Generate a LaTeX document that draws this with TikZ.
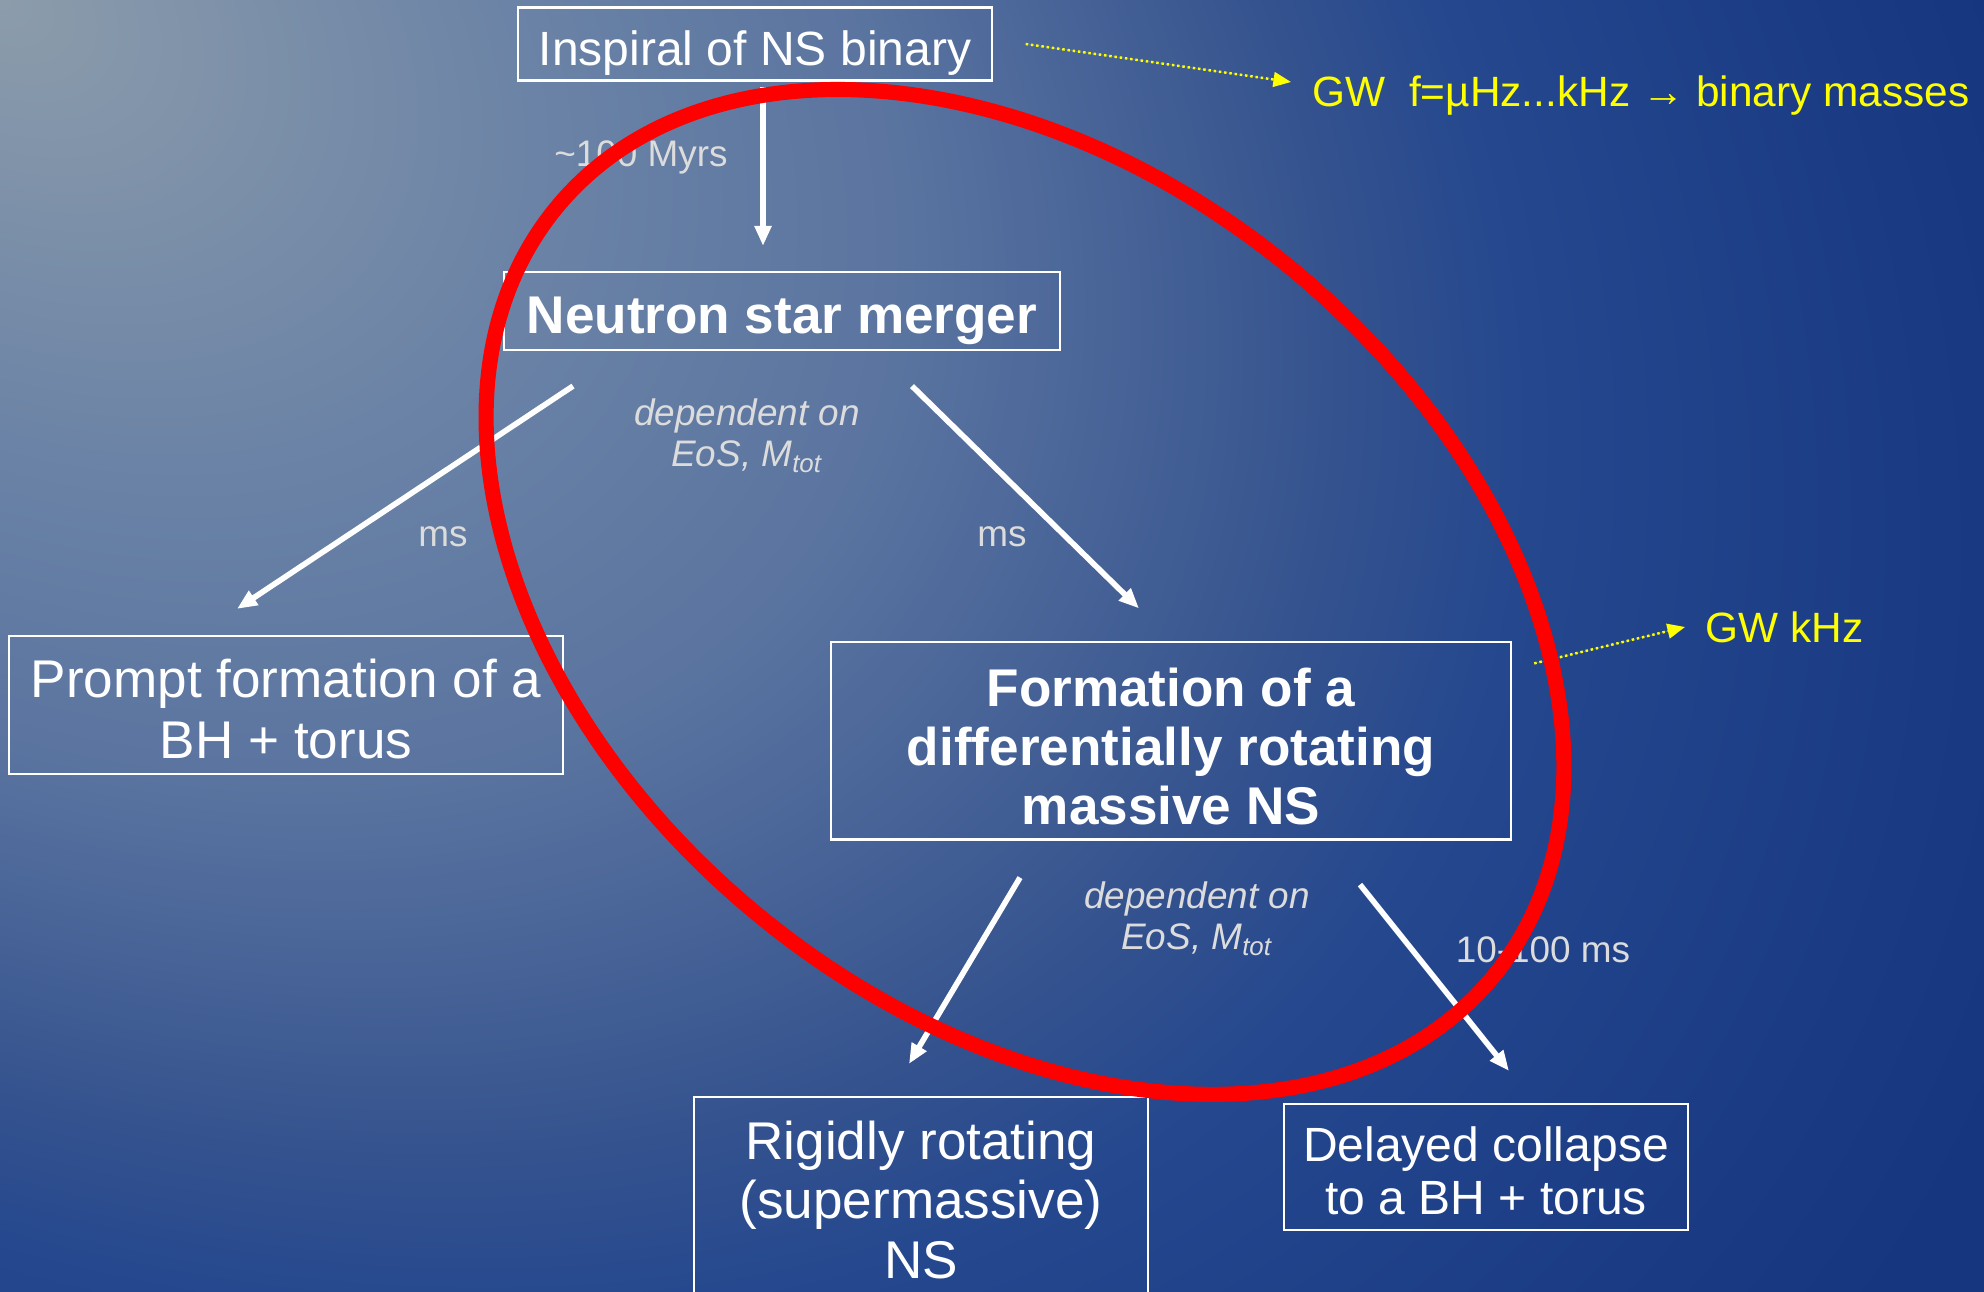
\documentclass[tikz,border=0pt]{standalone}
\usepackage{fontspec}
\setmainfont{Liberation Sans}
\usepackage{xcolor}
\usetikzlibrary{arrows.meta,calc}

\definecolor{bgA}{HTML}{8C9CAB}
\definecolor{bgB}{HTML}{6B83A6}
\definecolor{bgC}{HTML}{5A74A0}
\definecolor{bgD}{HTML}{34528E}
\definecolor{bgE}{HTML}{24478E}
\definecolor{bgF}{HTML}{16367F}
\definecolor{lblgray}{HTML}{DCDCDC}
\definecolor{gwyellow}{HTML}{FFFF00}
\pgfdeclareradialshading{bgglow}{\pgfpoint{0bp}{0bp}}{color(0bp)=(bgA); color(5.6bp)=(bgB); color(9.5bp)=(bgC); color(14bp)=(bgD); color(16bp)=(bgE); color(22bp)=(bgF); color(50bp)=(bgF)}

\begin{document}
\begin{tikzpicture}[
  x=0.01cm, y=-0.01cm,
  box/.style={rectangle, draw=white, line width=0.6pt, text=white, align=center,
              inner sep=0pt, font=\fontsize{15.1pt}{16.8pt}\selectfont},
  boldbox/.style={box, font=\fontsize{15.1pt}{16.8pt}\selectfont\bfseries},
  lbl/.style={text=lblgray, inner sep=0pt, align=center, font=\fontsize{10.5pt}{11.7pt}\selectfont},
  arr/.style={-{Triangle[length=5.7pt, width=4.6pt]}, draw=white, line width=1.6pt},
  gwarr/.style={-{Triangle[length=5pt, width=4.2pt]}, draw=gwyellow, fill=gwyellow,
              line width=0.7pt, dash pattern=on 0.7pt off 0.8pt},
  gwtxt/.style={text=gwyellow, inner sep=0pt, anchor=base west, font=\fontsize{12.05pt}{14pt}\selectfont},
  ring/.style={draw=red, line width=4.3pt}
]
\useasboundingbox (0,0) rectangle (1984,1292);
\begin{scope}
  \clip (0,0) rectangle (1984,1292);
  \begin{scope}[transform canvas={rotate around={-33:(0,0)}}]
    \shade[shading=bgglow] (0,0) ellipse [x radius=2600, y radius=1800];
  \end{scope}
\end{scope}
% boxes
\node[box, minimum width=4.73cm, minimum height=0.73cm, font=\fontsize{13.66pt}{15.1pt}\selectfont] (inspiral) at (755,44) {\rule{0pt}{15.1pt}Inspiral of NS binary};
\node[boldbox, minimum width=5.55cm, minimum height=0.78cm] (merger) at (782,311) {\rule{0pt}{16.1pt}Neutron star merger};
\node[box, minimum width=5.53cm, minimum height=1.38cm, font=\fontsize{15.1pt}{17.3pt}\selectfont] (prompt) at (286,705) {\rule{0pt}{13pt}Prompt formation of a\\BH + torus};
\node[boldbox, minimum width=6.80cm, minimum height=1.97cm] (diffns) at (1171,741) {\rule{0pt}{13.9pt}Formation of a\\differentially rotating\\massive NS};
\node[box, minimum width=4.53cm, minimum height=2.06cm] (rigid) at (921,1200) {Rigidly rotating\\(supermassive)\\NS};
\node[box, minimum width=4.04cm, minimum height=1.26cm, font=\fontsize{13.66pt}{15.1pt}\selectfont] (delayed) at (1486,1167) {\rule{0pt}{12.2pt}Delayed collapse\\to a BH + torus};
% labels
\node[lbl] (myrs) at (641,157) {\textasciitilde 100 Myrs};
\node[lbl] (msleft) at (443,537) {ms};
\node[lbl] (msright) at (1002,537) {ms};
\node[lbl, font=\fontsize{10.5pt}{11.7pt}\selectfont\itshape] (dep1) at (747,436) {dependent on\\EoS, M\textsubscript{tot}};
\node[lbl, font=\fontsize{10.5pt}{11.7pt}\selectfont\itshape] (dep2) at (1197,919) {dependent on\\EoS, M\textsubscript{tot}};
\node[lbl] (delay) at (1543,950) {10-100 ms};
\node[gwtxt] (gwmass) at (1312,107) {GW~~f=µHz...kHz → binary masses};
\node[gwtxt] (gwkhz) at (1705,643) {GW kHz};
% arrows
\draw[arr] ($(inspiral.south)+(8,5)$) -- ($(merger.north)+(-19,-25)$);
\draw[arr] ($(merger.south)+(-209,35)$) -- ($(prompt.north)+(-49,-26)$);
\draw[arr] ($(merger.south)+(130,35)$) -- ($(diffns.north)+(-32,-33)$);
\draw[arr] ($(diffns.south)+(-151,37)$) -- ($(rigid.north)+(-12,-32)$);
\draw[arr] ($(diffns.south)+(189,44)$) -- ($(delayed.north)+(23,-32)$);
\draw[gwarr] ($(inspiral.east)+(33,0)$) -- ($(gwmass.base west)+(-21,-25)$);
\draw[gwarr] ($(diffns.north east)+(22,22)$) -- ($(gwkhz.base west)+(-20,-16)$);
% highlight
\coordinate (ringc) at (1025,592);
\draw[ring, rotate around={-39.3:(ringc)}] (ringc) ellipse [x radius=606, y radius=419];
\end{tikzpicture}
\end{document}
